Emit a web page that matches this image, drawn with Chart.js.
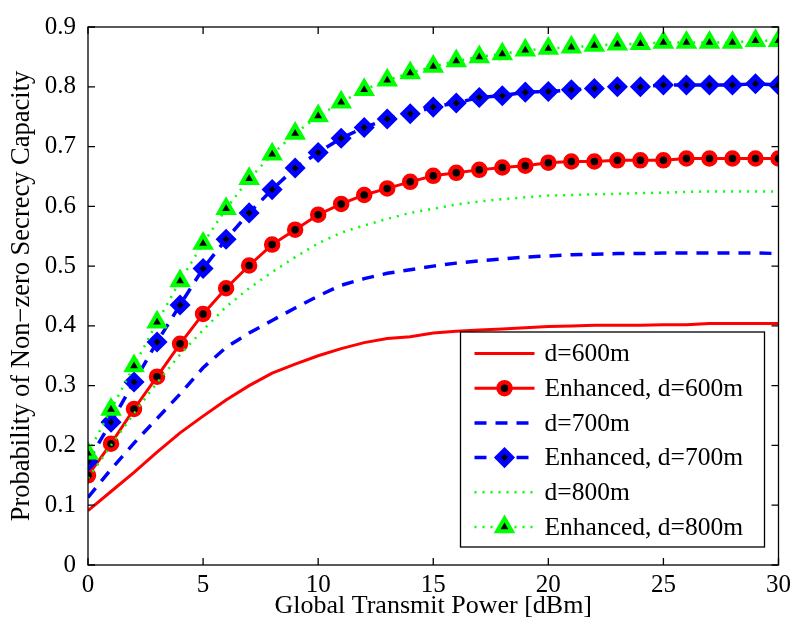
<!DOCTYPE html>
<html>
<head>
<meta charset="utf-8">
<script src="https://cdn.jsdelivr.net/npm/chart.js@4"></script>
<style>
  body { margin: 0; background: #fff; }
  #wrap { width: 796px; height: 625px; }
</style>
</head>
<body>
<div id="wrap"><canvas id="myChart" width="796" height="625"></canvas></div>
<script>
// x axis: Global Transmit Power [dBm]
let power = [0, 1, 2, 3, 4, 5, 6, 7, 8, 9, 10, 11, 12, 13, 14, 15, 16, 17, 18, 19, 20, 21, 22, 23, 24, 25, 26, 27, 28, 29, 30];

let d600 = [0.091, 0.123, 0.155, 0.189, 0.221, 0.249, 0.276, 0.300, 0.321, 0.336, 0.350, 0.362, 0.372, 0.379, 0.382, 0.388,
    0.391, 0.393, 0.395, 0.397, 0.399, 0.400, 0.401, 0.401, 0.401, 0.402, 0.402, 0.404, 0.404, 0.404, 0.404];
let enh600 = [0.150, 0.203, 0.261, 0.315, 0.370, 0.420, 0.463, 0.501, 0.536, 0.561, 0.586, 0.604, 0.619, 0.630, 0.641, 0.651,
    0.656, 0.661, 0.665, 0.668, 0.673, 0.675, 0.675, 0.677, 0.677, 0.677, 0.680, 0.680, 0.680, 0.680, 0.680];
let d700 = [0.113, 0.160, 0.204, 0.245, 0.286, 0.330, 0.364, 0.388, 0.409, 0.430, 0.450, 0.468, 0.479, 0.488, 0.494, 0.500,
    0.505, 0.509, 0.512, 0.515, 0.517, 0.519, 0.520, 0.521, 0.521, 0.522, 0.522, 0.522, 0.522, 0.522, 0.521];
let enh700 = [0.173, 0.239, 0.306, 0.373, 0.435, 0.496, 0.545, 0.589, 0.628, 0.664, 0.690, 0.714, 0.732, 0.746, 0.755, 0.766,
    0.773, 0.782, 0.785, 0.791, 0.792, 0.795, 0.797, 0.800, 0.800, 0.803, 0.803, 0.803, 0.803, 0.805, 0.803];
let d800 = [0.145, 0.200, 0.254, 0.305, 0.352, 0.393, 0.432, 0.463, 0.490, 0.515, 0.538, 0.556, 0.568, 0.579, 0.589, 0.596,
    0.603, 0.608, 0.612, 0.615, 0.618, 0.619, 0.620, 0.621, 0.622, 0.623, 0.624, 0.625, 0.625, 0.625, 0.625];
let enh800 = [0.187, 0.260, 0.333, 0.406, 0.475, 0.538, 0.596, 0.646, 0.687, 0.722, 0.751, 0.774, 0.795, 0.811, 0.823, 0.834,
    0.843, 0.850, 0.855, 0.861, 0.864, 0.866, 0.869, 0.871, 0.872, 0.874, 0.874, 0.874, 0.874, 0.877, 0.877];

let labels = ['d=600m', 'Enhanced, d=600m', 'd=700m', 'Enhanced, d=700m', 'd=800m', 'Enhanced, d=800m'];
let xTicks = [0, 5, 10, 15, 20, 25, 30];
let yTicks = [0, 0.1, 0.2, 0.3, 0.4, 0.5, 0.6, 0.7, 0.8, 0.9];

const FONT = "'Liberation Serif', 'Times New Roman', serif";

function pts(ys) {
    return power.map((x, i) => ({ x: x, y: ys[i] }));
}

// plain line styles
function lineSet(label, ys, color, dash, width, order) {
    return {
        label: label, data: pts(ys), borderColor: color, borderWidth: width,
        borderDash: dash, pointRadius: 0, fill: false, tension: 0, order: order
    };
}
// line + marker styles
function markSet(label, ys, color, dash, width, style, r, bw, order) {
    return {
        label: label, data: pts(ys), borderColor: color, borderWidth: width,
        borderDash: dash, fill: false, tension: 0, order: order,
        pointStyle: style, pointRadius: r, pointBorderWidth: bw,
        pointBackgroundColor: '#000', pointBorderColor: color
    };
}

// box + inside ticks like matlab
const boxPlugin = {
    id: 'box',
    afterDatasetsDraw(chart) {
        const { ctx, chartArea: a, scales } = chart;
        ctx.save();
        ctx.strokeStyle = '#000';
        ctx.lineWidth = 1.3;
        ctx.strokeRect(a.left, a.top, a.right - a.left, a.bottom - a.top);
        ctx.beginPath();
        xTicks.forEach(v => {
            let px = scales.x.getPixelForValue(v);
            ctx.moveTo(px, a.bottom); ctx.lineTo(px, a.bottom - 7);
            ctx.moveTo(px, a.top); ctx.lineTo(px, a.top + 7);
        });
        yTicks.forEach(v => {
            let py = scales.y.getPixelForValue(v);
            ctx.moveTo(a.left, py); ctx.lineTo(a.left + 7, py);
            ctx.moveTo(a.right, py); ctx.lineTo(a.right - 7, py);
        });
        ctx.stroke();
        ctx.restore();
    }
};

// legend box in the lower right corner
const legendPlugin = {
    id: 'boxLegend',
    afterDraw(chart) {
        const { ctx, chartArea: a } = chart;
        const right = a.right - 14, bottom = a.bottom - 18;
        const w = 304, h = 215;
        const left = right - w, top = bottom - h;
        ctx.save();
        ctx.fillStyle = '#fff';
        ctx.fillRect(left, top, w, h);
        ctx.strokeStyle = '#000';
        ctx.lineWidth = 1.3;
        ctx.strokeRect(left, top, w, h);
        chart.data.datasets.forEach((ds, i) => {
            const y = top + 21.5 + i * 34.7;
            const x0 = left + 14, x1 = left + 74, xm = (x0 + x1) / 2;
            ctx.strokeStyle = ds.borderColor;
            ctx.lineWidth = ds.borderWidth;
            ctx.setLineDash(ds.borderDash || []);
            ctx.beginPath();
            ctx.moveTo(x0, y); ctx.lineTo(x1, y);
            ctx.stroke();
            ctx.setLineDash([]);
            if (ds.pointRadius > 0) {
                ctx.fillStyle = ds.pointBackgroundColor;
                ctx.strokeStyle = ds.pointBorderColor;
                ctx.lineWidth = ds.pointBorderWidth;
                Chart.helpers.drawPoint(ctx, { pointStyle: ds.pointStyle, radius: ds.pointRadius, borderWidth: ds.pointBorderWidth, rotation: 0 }, xm, y);
            }
            ctx.fillStyle = '#000';
            ctx.font = '25.5px ' + FONT;
            ctx.textBaseline = 'middle';
            ctx.textAlign = 'left';
            ctx.fillText(ds.label, left + 84, y + 1);
        });
        ctx.restore();
    }
};

let ctx = document.getElementById('myChart').getContext('2d');
let myChart = new Chart(ctx, {
    type: 'line',
    data: {
        datasets: [
            lineSet(labels[0], d600, '#ff0000', [], 3, 5),
            markSet(labels[1], enh600, '#ff0000', [], 3, 'circle', 6, 4.5, 4),
            lineSet(labels[2], d700, '#0000ff', [12, 9], 3.5, 3),
            markSet(labels[3], enh700, '#0000ff', [12, 9], 3.5, 'rectRot', 7, 5, 2),
            lineSet(labels[4], d800, '#00ff00', [2, 6], 2.5, 1),
            markSet(labels[5], enh800, '#00ff00', [2, 6], 2.5, 'triangle', 8.5, 4, 0)
        ]
    },
    options: {
        responsive: false,
        animation: false,
        devicePixelRatio: 1,
        layout: { padding: { left: 0, right: 14, top: 16, bottom: 0 } },
        plugins: {
            legend: { display: false },
            tooltip: { enabled: false }
        },
        scales: {
            x: {
                type: 'linear', min: 0, max: 30,
                grid: { display: false, drawTicks: false },
                border: { display: false },
                afterFit: (s) => { s.height = 60; },
                afterBuildTicks: (s) => { s.ticks = xTicks.map(v => ({ value: v })); },
                ticks: { color: '#000', padding: 5, maxRotation: 0, font: { family: FONT, size: 25 } },
                title: {
                    display: true, text: 'Global Transmit Power [dBm]', color: '#000',
                    font: { family: FONT, size: 26 }, padding: { top: 0, bottom: 3 }
                }
            },
            y: {
                min: 0, max: 0.9,
                grid: { display: false, drawTicks: false },
                border: { display: false },
                afterFit: (s) => { s.width = 88; },
                afterBuildTicks: (s) => { s.ticks = yTicks.map(v => ({ value: v })); },
                ticks: {
                    color: '#000', padding: 12, font: { family: FONT, size: 25 },
                    callback: (v) => v === 0 ? '0' : v.toFixed(1)
                },
                title: {
                    display: true, text: 'Probability of Non\u2212zero Secrecy Capacity', color: '#000',
                    font: { family: FONT, size: 26.5 }, padding: { top: 6, bottom: 0 }
                }
            }
        }
    },
    plugins: [boxPlugin, legendPlugin]
});
</script>
</body>
</html>
